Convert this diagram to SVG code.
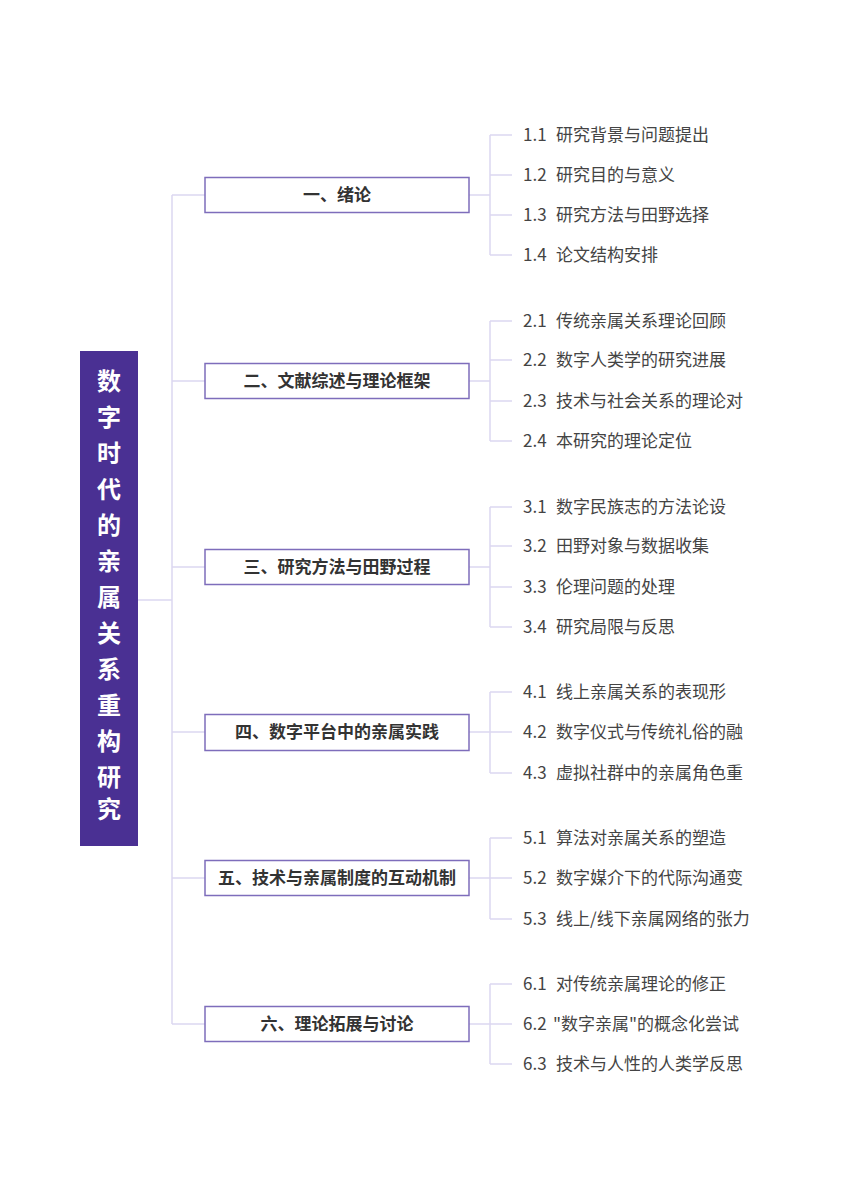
<svg xmlns="http://www.w3.org/2000/svg" width="848" height="1200" viewBox="0 0 848 1200">
<style>
.bg{fill:#ffffff}
.ln{stroke:#dcd7f1;stroke-width:1.5;fill:none}
.root{fill:#4a3093}
.rt{font-family:"Noto Sans CJK SC","Liberation Sans",sans-serif;font-size:24px;font-weight:bold;fill:#ffffff;text-anchor:middle}
.ch{fill:#ffffff;stroke:#7e6dbb;stroke-width:1.5}
.cht{font-family:"Noto Sans CJK SC","Liberation Sans",sans-serif;font-size:17px;font-weight:bold;fill:#333333;text-anchor:middle}
.lf{font-family:"Noto Sans CJK SC","Liberation Sans",sans-serif;font-size:17px;fill:#444444}
</style>
<rect class="bg" x="0" y="0" width="848" height="1200"/>
<g id="connectors">
<path class="ln" d="M138 600H172M172 195V1024M172 195H205M172 381H205M172 567H205M172 732H205M172 878H205M172 1024H205"/>
<path class="ln" d="M469 195H490M490 135V255M490 135H512M490 175H512M490 215H512M490 255H512"/>
<path class="ln" d="M469 381H490M490 321V441M490 321H512M490 360H512M490 401H512M490 441H512"/>
<path class="ln" d="M469 567H490M490 507V627M490 507H512M490 546H512M490 587H512M490 627H512"/>
<path class="ln" d="M469 732H490M490 692V773M490 692H512M490 732H512M490 773H512"/>
<path class="ln" d="M469 878H490M490 838V919M490 838H512M490 878H512M490 919H512"/>
<path class="ln" d="M469 1024H490M490 984V1064M490 984H512M490 1024H512M490 1064H512"/>
</g>
<g id="root">
<rect class="root" x="80" y="351" width="58" height="495"/>
<text class="rt" x="109">
<tspan x="109" y="390">数</tspan><tspan x="109" y="426">字</tspan><tspan x="109" y="462">时</tspan><tspan x="109" y="498">代</tspan><tspan x="109" y="534">的</tspan><tspan x="109" y="570">亲</tspan><tspan x="109" y="606">属</tspan><tspan x="109" y="642">关</tspan><tspan x="109" y="678">系</tspan><tspan x="109" y="714">重</tspan><tspan x="109" y="750">构</tspan><tspan x="109" y="786">研</tspan><tspan x="109" y="818">究</tspan>
</text>
</g>
<g id="ch1"><rect class="ch" x="205" y="177.5" width="264" height="35"/><text class="cht" x="337" y="201">一、绪论</text></g>
<g id="ch2"><rect class="ch" x="205" y="363.5" width="264" height="35"/><text class="cht" x="337" y="387">二、文献综述与理论框架</text></g>
<g id="ch3"><rect class="ch" x="205" y="549.5" width="264" height="35"/><text class="cht" x="337" y="573">三、研究方法与田野过程</text></g>
<g id="ch4"><rect class="ch" x="205" y="714.5" width="264" height="36"/><text class="cht" x="337" y="738">四、数字平台中的亲属实践</text></g>
<g id="ch5"><rect class="ch" x="205" y="860.5" width="264" height="35"/><text class="cht" x="337" y="884">五、技术与亲属制度的互动机制</text></g>
<g id="ch6"><rect class="ch" x="205" y="1006.5" width="264" height="35"/><text class="cht" x="337" y="1030">六、理论拓展与讨论</text></g>
<g id="leaves1">
<text class="lf" x="523" y="141">1.1 <tspan x="556">研究背景与问题提出</tspan></text>
<text class="lf" x="523" y="181">1.2 <tspan x="556">研究目的与意义</tspan></text>
<text class="lf" x="523" y="221">1.3 <tspan x="556">研究方法与田野选择</tspan></text>
<text class="lf" x="523" y="261">1.4 <tspan x="556">论文结构安排</tspan></text>
</g>
<g id="leaves2">
<text class="lf" x="523" y="327">2.1 <tspan x="556">传统亲属关系理论回顾</tspan></text>
<text class="lf" x="523" y="366">2.2 <tspan x="556">数字人类学的研究进展</tspan></text>
<text class="lf" x="523" y="407">2.3 <tspan x="556">技术与社会关系的理论对</tspan></text>
<text class="lf" x="523" y="447">2.4 <tspan x="556">本研究的理论定位</tspan></text>
</g>
<g id="leaves3">
<text class="lf" x="523" y="513">3.1 <tspan x="556">数字民族志的方法论设</tspan></text>
<text class="lf" x="523" y="552">3.2 <tspan x="556">田野对象与数据收集</tspan></text>
<text class="lf" x="523" y="593">3.3 <tspan x="556">伦理问题的处理</tspan></text>
<text class="lf" x="523" y="633">3.4 <tspan x="556">研究局限与反思</tspan></text>
</g>
<g id="leaves4">
<text class="lf" x="523" y="698">4.1 <tspan x="556">线上亲属关系的表现形</tspan></text>
<text class="lf" x="523" y="738">4.2 <tspan x="556">数字仪式与传统礼俗的融</tspan></text>
<text class="lf" x="523" y="779">4.3 <tspan x="556">虚拟社群中的亲属角色重</tspan></text>
</g>
<g id="leaves5">
<text class="lf" x="523" y="844">5.1 <tspan x="556">算法对亲属关系的塑造</tspan></text>
<text class="lf" x="523" y="884">5.2 <tspan x="556">数字媒介下的代际沟通变</tspan></text>
<text class="lf" x="523" y="925">5.3 <tspan x="556">线上/线下亲属网络的张力</tspan></text>
</g>
<g id="leaves6">
<text class="lf" x="523" y="990">6.1 <tspan x="556">对传统亲属理论的修正</tspan></text>
<text class="lf" x="523" y="1030">6.2 <tspan x="553">"数字亲属"的概念化尝试</tspan></text>
<text class="lf" x="523" y="1070">6.3 <tspan x="556">技术与人性的人类学反思</tspan></text>
</g>
</svg>
